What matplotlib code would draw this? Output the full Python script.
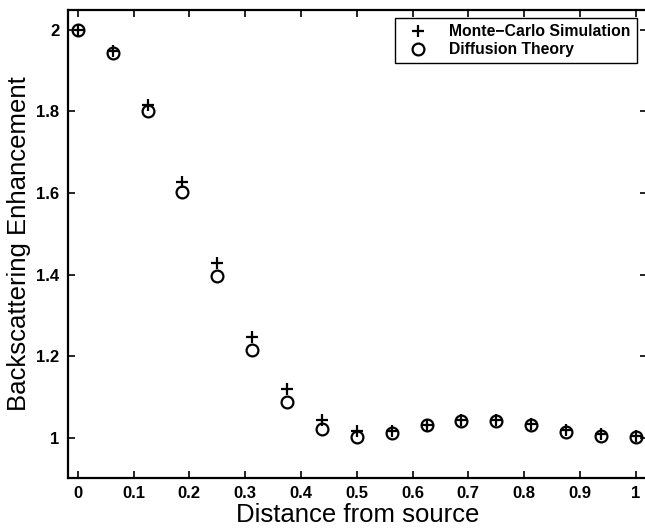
import matplotlib
matplotlib.use("Agg")
import matplotlib.pyplot as plt

# distance from source (normalised)
distance = [0.0, 0.0625, 0.125, 0.1875, 0.25, 0.3125, 0.375, 0.4375, 0.5,
            0.5625, 0.625, 0.6875, 0.75, 0.8125, 0.875, 0.9375, 1.0]

# backscattering enhancement
monte_carlo = [2.0, 1.947, 1.816, 1.627, 1.428, 1.248, 1.119, 1.045, 1.018,
               1.016, 1.032, 1.043, 1.043, 1.034, 1.020, 1.010, 1.006]
diffusion = [2.0, 1.944, 1.800, 1.603, 1.398, 1.216, 1.088, 1.023, 1.002,
             1.012, 1.031, 1.042, 1.042, 1.031, 1.015, 1.006, 1.002]

x_ticks = [0, 0.1, 0.2, 0.3, 0.4, 0.5, 0.6, 0.7, 0.8, 0.9, 1.0]
x_tick_labels = ["0", "0.1", "0.2", "0.3", "0.4", "0.5", "0.6", "0.7", "0.8", "0.9", "1"]
y_ticks = [1.0, 1.2, 1.4, 1.6, 1.8, 2.0]
y_tick_labels = ["1", "1.2", "1.4", "1.6", "1.8", "2"]

plt.rcParams["font.family"] = ["Liberation Sans", "DejaVu Sans"]

fig = plt.figure(figsize=(6.45, 5.29), dpi=100)
ax = fig.add_axes([0.105, 0.0964, 0.898, 0.885])

ax.plot(distance, monte_carlo, linestyle="none", marker="+", color="black",
        markersize=9, markeredgewidth=1.6, label="Monte\u2212Carlo Simulation")
ax.plot(distance, diffusion, linestyle="none", marker="o", markerfacecolor="none",
        markeredgecolor="black", markersize=8.5, markeredgewidth=1.6,
        label="Diffusion Theory")

ax.set_xlim(-0.018, 1.02)
ax.set_ylim(0.902, 2.049)
ax.set_xticks(x_ticks)
ax.set_xticklabels(x_tick_labels, fontweight="bold", fontsize=12)
ax.set_yticks(y_ticks)
ax.set_yticklabels(y_tick_labels, fontweight="bold", fontsize=12)
ax.tick_params(direction="in", length=5, width=1.2, top=True, right=True, pad=6)

for spine in ax.spines.values():
    spine.set_linewidth(1.6)

ax.set_xlabel("Distance from source", fontsize=18.5, labelpad=1)
ax.set_ylabel("Backscattering Enhancement", fontsize=18.5, labelpad=4)

leg = ax.legend(loc="upper right", bbox_to_anchor=(0.983, 0.983), borderaxespad=0,
                fancybox=False, framealpha=1, edgecolor="black",
                prop={"weight": "bold", "size": 11.3}, handlelength=2.2,
                handletextpad=0.9, borderpad=0.4, labelspacing=0.2)
leg.get_frame().set_linewidth(1.0)

fig.savefig("out.png", dpi=100)
